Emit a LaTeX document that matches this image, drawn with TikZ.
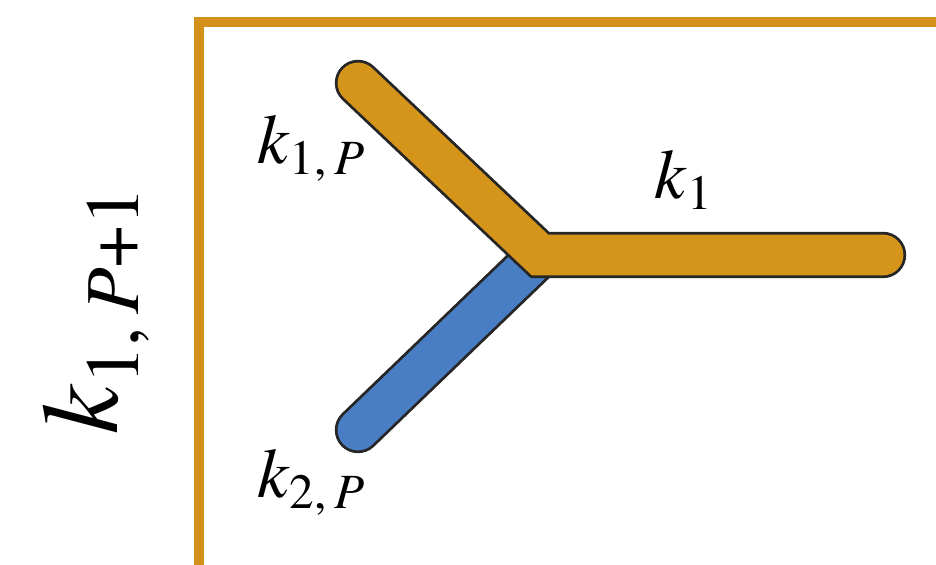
\documentclass[tikz,border=0pt]{standalone}
\usepackage{fontspec}
\setmainfont{TeX Gyre Termes}
\definecolor{frameorange}{HTML}{D4911A}
\definecolor{strandorange}{HTML}{D4951A}
\definecolor{strandblue}{HTML}{4A7EC4}
\tikzset{frame/.style={draw=frameorange, line width=3.1pt},
  outline/.style={line width=13.2pt, line cap=round, line join=miter, draw=black!85},
  strand/.style={line width=11.6pt, line cap=round, line join=miter, draw=#1},
  lbl/.style={font=\fontsize{20}{24}\selectfont, inner sep=0pt}}
\begin{document}
\begin{tikzpicture}[x=0.01cm, y=-0.01cm]
      \useasboundingbox (0,0) rectangle (936,565);
      \coordinate (C1) at (199,22); \coordinate (TR) at (936,22);
      \coordinate (BL) at (199,565);
      \draw[frame] (TR) -- (C1) -- (BL);
      \coordinate (tip1) at (358,83); \coordinate (hub) at (540,255);
      \coordinate (tip2) at (358,430); \coordinate (end) at (883,255);
      \draw[outline] (tip2) -- (hub); \draw[strand=strandblue] (tip2) -- (hub);
      \draw[outline] (tip1) -- (hub) -- (end);
      \draw[strand=strandorange] (tip1) -- (hub) -- (end);
      \node[lbl] (k1P) at (312,148) {\textit{k}\textsubscript{1,\,\textit{P}}};
      \node[lbl] (k1) at (684,180) {\textit{k}\textsubscript{1}};
      \node[lbl] (k2P) at (312,482) {\textit{k}\textsubscript{2,\,\textit{P}}};
      \node[lbl, font=\fontsize{31}{37}\selectfont, rotate=90] (k1PP)
      at (96,310) {\textit{k}\textsubscript{1,\,\textit{P}+1}};
    \end{tikzpicture}
\end{document}
